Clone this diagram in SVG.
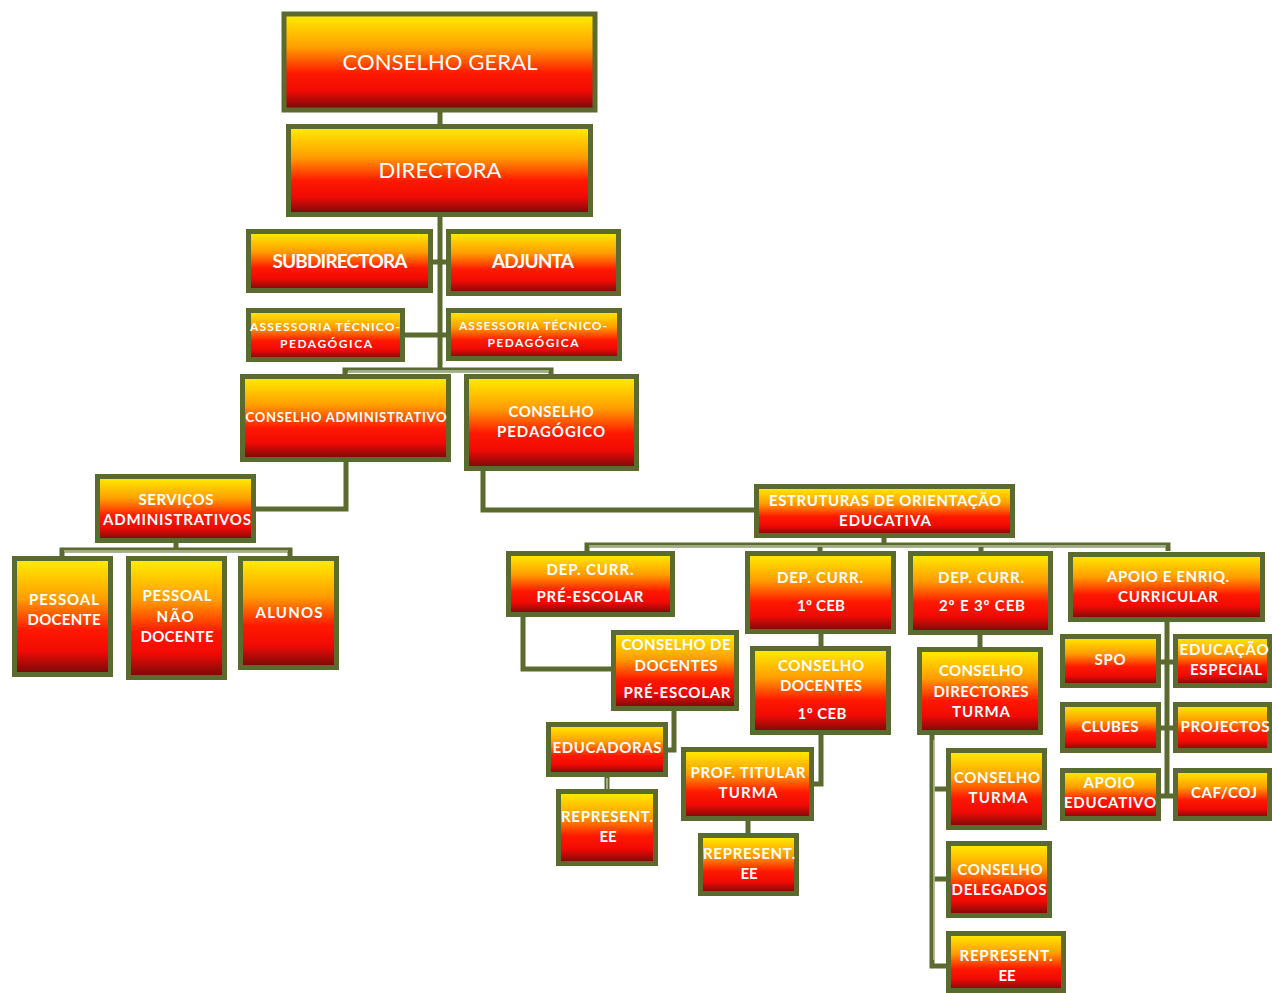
<svg xmlns="http://www.w3.org/2000/svg" width="1272" height="993" viewBox="0 0 1272 993">
<defs>
<linearGradient id="g" x1="0" y1="0" x2="0" y2="1">
<stop offset="0" stop-color="#FFF000"/>
<stop offset="0.35" stop-color="#FF9C00"/>
<stop offset="0.62" stop-color="#FF1800"/>
<stop offset="0.8" stop-color="#F00A05"/>
<stop offset="1" stop-color="#700A0A"/>
</linearGradient>
<style>
.n{fill:url(#g);stroke:#5B6B2F;stroke-width:5}
.c{fill:none;stroke:#5B6B2F;stroke-width:5}
.h{fill:none;stroke:#B9C0A2;stroke-width:1.5}
text{font-family:Lato,"Open Sans","Liberation Sans",sans-serif;fill:#FFFFFF;text-anchor:middle;font-weight:bold;font-size:15px}
.big{font-size:22px;font-weight:normal}
.m{font-size:19px}
.s{font-size:12px}
</style>
</defs>
<rect width="1272" height="993" fill="#FFFFFF"/>
<g id="connectors">
<path class="c" d="M440 112V126M440 217V370M433 262H447M405 335H447M345 376V370H551V376"/>
<path class="h" d="M348 371H549"/>
<path class="c" d="M346 460V509H254"/>
<path class="c" d="M176 542V550M62 557V550H290V557"/>
<path class="h" d="M64 551H288"/>
<path class="c" d="M483 470V510H755"/>
<path class="c" d="M884 537V545M587 551V545H1168V551M820 545V551M981 545V551"/>
<path class="h" d="M589 546H1166"/>
<path class="c" d="M523 616V669H612"/>
<path class="c" d="M674 711V750H667"/>
<path class="c" d="M607 777V790"/>
<path class="h" d="M607 778V789"/>
<path class="c" d="M821 634V648M821 735V784H814M748 821V834"/>
<path class="c" d="M980 635V648M932 735V966H947M932 789H947M932 879H947"/>
<path class="h" d="M934 740V960"/>
<path class="c" d="M1167 622V796H1160M1160 662H1174M1160 728H1174M1167 796H1174"/>
</g>
<g id="conselho-geral"><rect class="n" x="284" y="14" width="311" height="96"/><text class="big" x="440" y="70" textLength="195">CONSELHO GERAL</text></g>
<g id="directora"><rect class="n" x="288.5" y="126.5" width="302" height="88"/><text class="big" x="440" y="178" textLength="123">DIRECTORA</text></g>
<g id="subdirectora"><rect class="n" x="248.5" y="231.5" width="182" height="59"/><text class="m" x="340" y="268" textLength="135">SUBDIRECTORA</text></g>
<g id="adjunta"><rect class="n" x="448.5" y="231.5" width="170" height="62"/><text class="m" x="533" y="268" textLength="82">ADJUNTA</text></g>
<g id="assessoria-1"><rect class="n" x="248.5" y="310.5" width="154" height="49"/><text class="s" x="325" y="331" textLength="150">ASSESSORIA TÉCNICO-</text><text class="s" x="326" y="348" textLength="92">PEDAGÓGICA</text></g>
<g id="assessoria-2"><rect class="n" x="448.5" y="310.5" width="171" height="48"/><text class="s" x="533" y="330" textLength="148">ASSESSORIA TÉCNICO-</text><text class="s" x="533" y="347" textLength="91">PEDAGÓGICA</text></g>
<g id="conselho-administrativo"><rect class="n" x="242.5" y="376.5" width="206" height="83"/><text style="font-size:13px" x="346" y="422" textLength="201">CONSELHO  ADMINISTRATIVO</text></g>
<g id="conselho-pedagogico"><rect class="n" x="466.5" y="376.5" width="170" height="92"/><text x="551" y="417" textLength="85">CONSELHO</text><text x="551" y="437" textLength="108">PEDAGÓGICO</text></g>
<g id="servicos"><rect class="n" x="97.5" y="476.5" width="156" height="64"/><text x="176" y="505" textLength="75">SERVIÇOS</text><text x="177" y="525" textLength="148">ADMINISTRATIVOS</text></g>
<g id="pessoal-docente"><rect class="n" x="14.5" y="558.5" width="96" height="116"/><text x="64" y="605" textLength="70">PESSOAL</text><text x="64" y="625" textLength="73">DOCENTE</text></g>
<g id="pessoal-nao-docente"><rect class="n" x="128.5" y="558.5" width="96" height="119"/><text x="177" y="601" textLength="69">PESSOAL</text><text x="175" y="622" textLength="37">NÃO</text><text x="177" y="642" textLength="73">DOCENTE</text></g>
<g id="alunos"><rect class="n" x="240.5" y="558.5" width="96" height="109"/><text x="289" y="618" textLength="67">ALUNOS</text></g>
<g id="estruturas"><rect class="n" x="756.5" y="486.5" width="256" height="49"/><text x="885" y="506" textLength="232">ESTRUTURAS DE ORIENTAÇÃO</text><text x="885" y="526" textLength="92">EDUCATIVA</text></g>
<g id="dep-pre"><rect class="n" x="508.5" y="553.5" width="164" height="61"/><text x="590" y="575" textLength="87">DEP. CURR.</text><text x="590" y="602" textLength="107">PRÉ-ESCOLAR</text></g>
<g id="dep-1ceb"><rect class="n" x="747.5" y="553.5" width="146" height="78"/><text x="820" y="583" textLength="86">DEP. CURR.</text><text x="821" y="611" textLength="48">1º CEB</text></g>
<g id="dep-23ceb"><rect class="n" x="910.5" y="553.5" width="140" height="79"/><text x="981" y="583" textLength="86">DEP. CURR.</text><text x="982" y="611" textLength="86">2º E 3º CEB</text></g>
<g id="apoio-enriq"><rect class="n" x="1070.5" y="554.5" width="192" height="65"/><text x="1168" y="582" textLength="122">APOIO E ENRIQ.</text><text x="1168" y="602" textLength="100">CURRICULAR</text></g>
<g id="conselho-docentes-pre"><rect class="n" x="613.5" y="632.5" width="123" height="76"/><text x="676" y="650" textLength="109">CONSELHO DE</text><text x="676" y="671" textLength="83">DOCENTES</text><text x="677" y="698" textLength="107">PRÉ-ESCOLAR</text></g>
<g id="conselho-docentes-1ceb"><rect class="n" x="752.5" y="648.5" width="136" height="84"/><text x="821" y="671" textLength="86">CONSELHO</text><text x="821" y="691" textLength="82">DOCENTES</text><text x="822" y="719" textLength="49">1º CEB</text></g>
<g id="educadoras"><rect class="n" x="548.5" y="724.5" width="117" height="50"/><text x="607" y="753" textLength="109">EDUCADORAS</text></g>
<g id="represent-ee-1"><rect class="n" x="558.5" y="791.5" width="97" height="72"/><text x="607" y="822" textLength="92">REPRESENT.</text><text x="608" y="842" textLength="17">EE</text></g>
<g id="prof-titular"><rect class="n" x="683.5" y="749.5" width="128" height="69"/><text x="748" y="778" textLength="115">PROF. TITULAR</text><text x="748" y="798" textLength="59">TURMA</text></g>
<g id="represent-ee-2"><rect class="n" x="700.5" y="835.5" width="96" height="58"/><text x="749" y="859" textLength="92">REPRESENT.</text><text x="749" y="879" textLength="17">EE</text></g>
<g id="conselho-directores-turma"><rect class="n" x="919.5" y="649.5" width="121" height="83"/><text x="981" y="676" textLength="84">CONSELHO</text><text x="981" y="697" textLength="95">DIRECTORES</text><text x="981" y="717" textLength="58">TURMA</text></g>
<g id="conselho-turma"><rect class="n" x="948.5" y="750.5" width="96" height="77"/><text x="997" y="783" textLength="86">CONSELHO</text><text x="998" y="803" textLength="59">TURMA</text></g>
<g id="conselho-delegados"><rect class="n" x="948.5" y="843.5" width="101" height="72"/><text x="1000" y="875" textLength="85">CONSELHO</text><text x="999" y="895" textLength="95">DELEGADOS</text></g>
<g id="represent-ee-3"><rect class="n" x="948.5" y="933.5" width="115" height="57"/><text x="1006" y="961" textLength="93">REPRESENT.</text><text x="1007" y="981" textLength="17">EE</text></g>
<g id="spo"><rect class="n" x="1062.5" y="636.5" width="96" height="49"/><text x="1110" y="665" textLength="31">SPO</text></g>
<g id="educacao-especial"><rect class="n" x="1175.5" y="636.5" width="94" height="49"/><text x="1224" y="655" textLength="89">EDUCAÇÃO</text><text x="1226" y="675" textLength="72">ESPECIAL</text></g>
<g id="clubes"><rect class="n" x="1062.5" y="704.5" width="96" height="46"/><text x="1110" y="732" textLength="57">CLUBES</text></g>
<g id="projectos"><rect class="n" x="1175.5" y="704.5" width="94" height="46"/><text x="1225" y="732" textLength="89">PROJECTOS</text></g>
<g id="apoio-educativo"><rect class="n" x="1062.5" y="770.5" width="96" height="48"/><text x="1109" y="788" textLength="51">APOIO</text><text x="1110" y="808" textLength="92">EDUCATIVO</text></g>
<g id="caf-coj"><rect class="n" x="1175.5" y="770.5" width="94" height="48"/><text x="1224" y="798" textLength="66">CAF/COJ</text></g>
</svg>
